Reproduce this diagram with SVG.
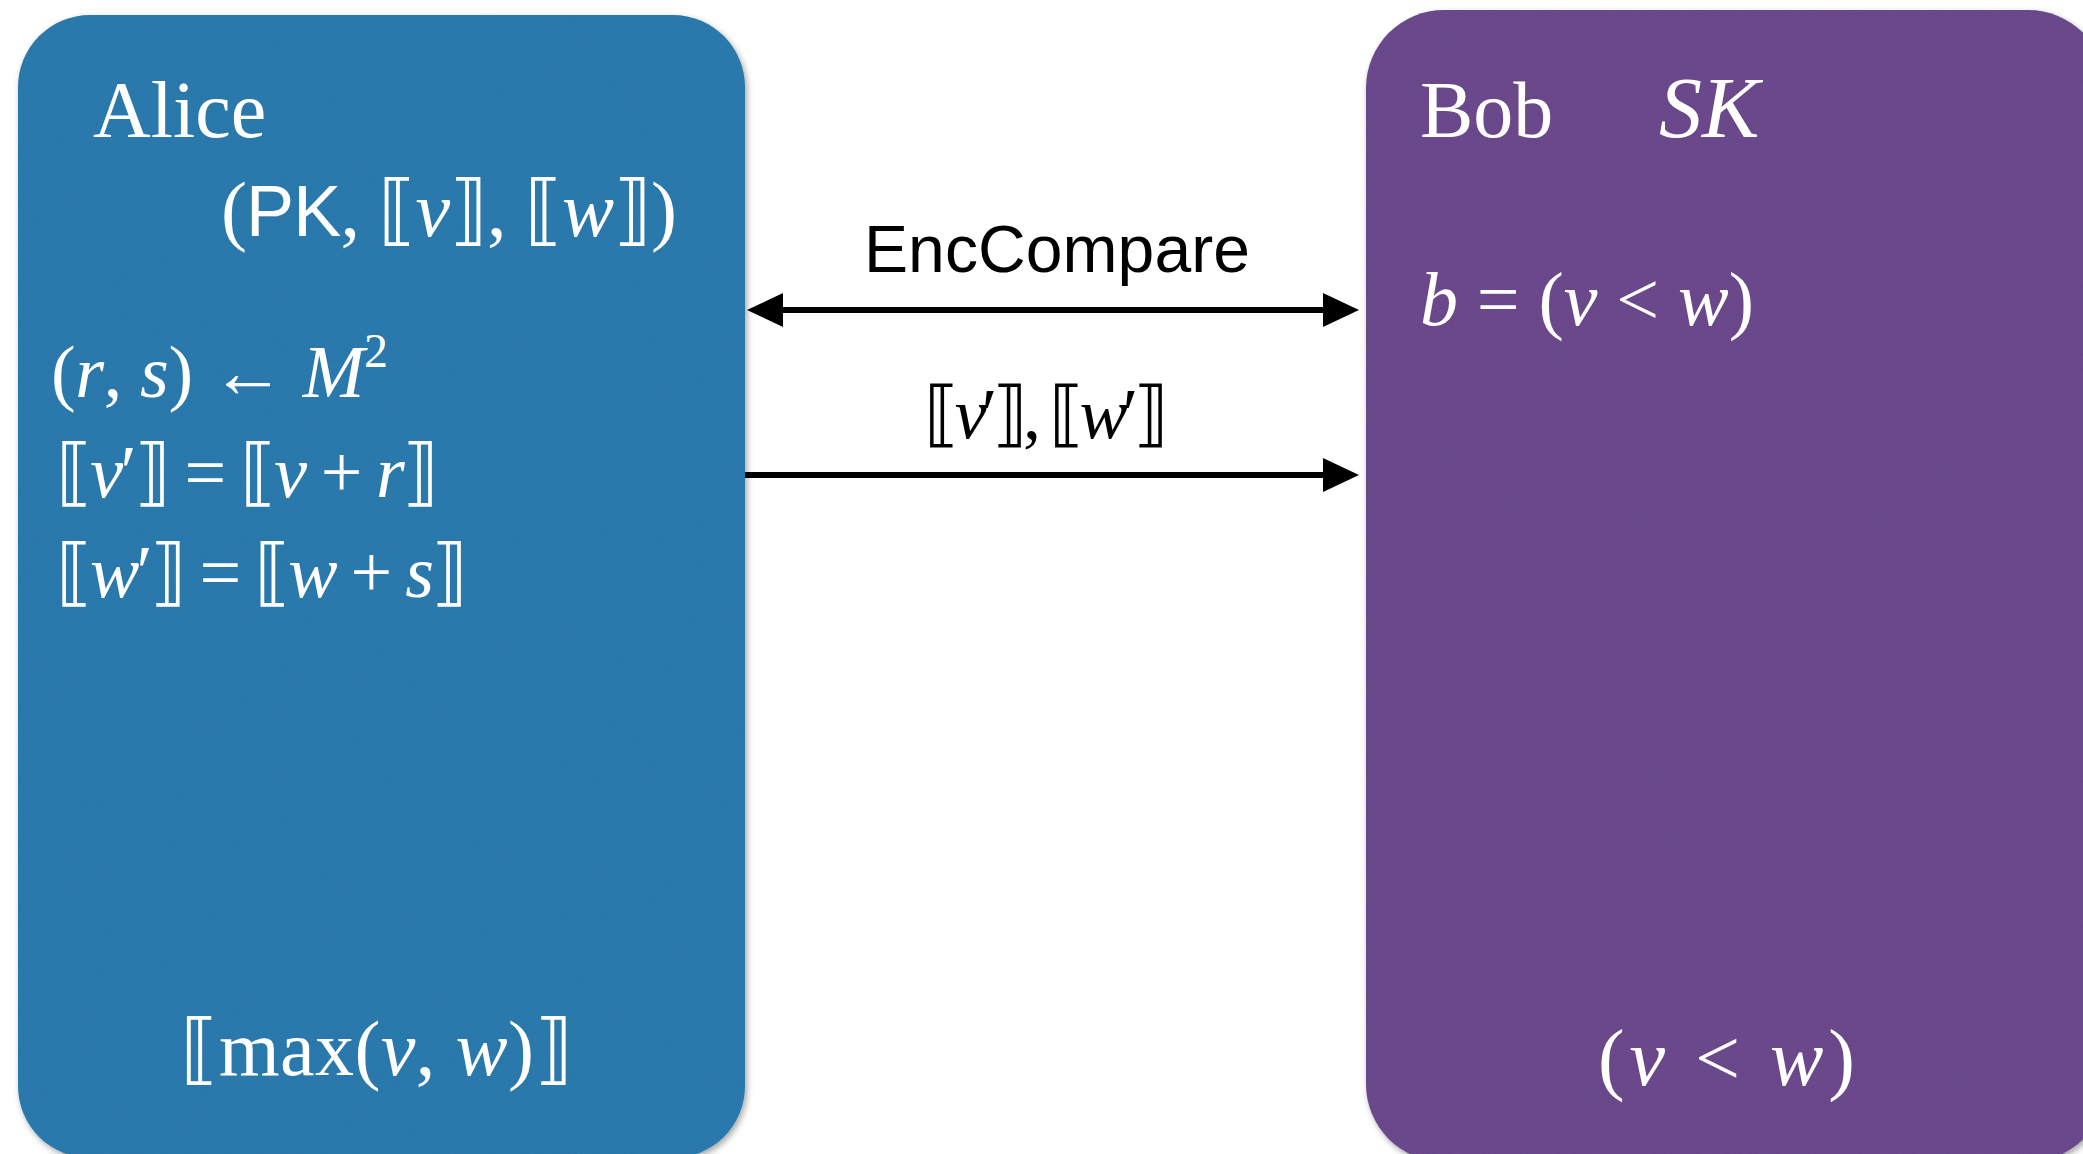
<svg xmlns="http://www.w3.org/2000/svg" width="2083" height="1154" viewBox="0 0 2083 1154">
  <style>
    .m { font-family: "Liberation Serif", "DejaVu Serif", "DejaVu Sans", serif; fill: #ffffff; }
    .i { font-style: italic; }
    .sans { font-family: "Liberation Sans", "DejaVu Sans", sans-serif; }
    .lbl { font-family: "Liberation Sans", "DejaVu Sans", sans-serif; fill: #000000; }
    .lm { font-family: "Liberation Serif", "DejaVu Serif", "DejaVu Sans", serif; fill: #000000; }
    .conn { stroke: #000000; stroke-width: 6; fill: none; }
  </style>
  <defs>
    <filter id="shadow" x="-5%" y="-5%" width="110%" height="110%">
      <feDropShadow dx="2" dy="3" stdDeviation="3" flood-color="#000000" flood-opacity="0.35"/>
    </filter>
    <filter id="paper" x="0" y="0" width="100%" height="100%">
      <feTurbulence type="fractalNoise" baseFrequency="0.6" numOctaves="3" seed="4" result="n"/>
      <feColorMatrix in="n" type="matrix" values="0 0 0 0 0  0 0 0 0 0  0 0 0 0 0  0 0 0 0.12 0" result="a"/>
      <feComposite in="a" in2="SourceGraphic" operator="in" result="t"/>
      <feMerge><feMergeNode in="SourceGraphic"/><feMergeNode in="t"/></feMerge>
    </filter>
    <marker id="head" viewBox="0 0 36 34" refX="1" refY="17" markerWidth="36" markerHeight="34" markerUnits="userSpaceOnUse" orient="auto-start-reverse">
      <path d="M0,0 L36,17 L0,34 Z" fill="#000000"/>
    </marker>
  </defs>

  <rect width="2083" height="1154" fill="#ffffff"/>

  <g id="alice">
    <g filter="url(#shadow)">
      <rect x="18" y="15" width="727" height="1143" rx="72" ry="72" fill="#2f7db1" filter="url(#paper)"/>
    </g>
    <text class="m" x="93" y="137" font-size="80">Alice</text>
    <text class="m" x="221" y="236" font-size="78" textLength="456" lengthAdjust="spacing">(<tspan class="sans" font-size="72">PK</tspan>, ⟦<tspan class="i">v</tspan>⟧, ⟦<tspan class="i">w</tspan>⟧)</text>
    <text class="m" x="51" y="397" font-size="74" textLength="337" lengthAdjust="spacing">(<tspan class="i">r</tspan>, <tspan class="i">s</tspan>) ← <tspan class="i">M</tspan><tspan font-size="48" dy="-30">2</tspan></text>
    <text class="m" x="56" y="497" font-size="74" textLength="383" lengthAdjust="spacing">⟦<tspan class="i">v</tspan>′⟧ = ⟦<tspan class="i">v</tspan> + <tspan class="i">r</tspan>⟧</text>
    <text class="m" x="56" y="597" font-size="74" textLength="412" lengthAdjust="spacing">⟦<tspan class="i">w</tspan>′⟧ = ⟦<tspan class="i">w</tspan> + <tspan class="i">s</tspan>⟧</text>
    <text class="m" x="180" y="1075" font-size="78" textLength="393" lengthAdjust="spacing">⟦max(<tspan class="i">v</tspan>, <tspan class="i">w</tspan>)⟧</text>
  </g>

  <g id="bob">
    <g filter="url(#shadow)">
      <rect x="1366" y="10" width="740" height="1152" rx="78" ry="78" fill="#6e4b8f" filter="url(#paper)"/>
    </g>
    <text class="m" x="1420" y="137" font-size="80">Bob</text>
    <text class="m i" x="1659" y="137" font-size="86">SK</text>
    <text class="m" x="1420" y="325" font-size="76" textLength="334" lengthAdjust="spacing"><tspan class="i">b</tspan> = (<tspan class="i">v</tspan> &lt; <tspan class="i">w</tspan>)</text>
    <text class="m" x="1598" y="1085" font-size="80" textLength="257" lengthAdjust="spacing">(<tspan class="i">v</tspan> &lt; <tspan class="i">w</tspan>)</text>
  </g>

  <g id="connectors">
    <line class="conn" x1="782" y1="310" x2="1324" y2="310" marker-start="url(#head)" marker-end="url(#head)"/>
    <line class="conn" x1="745" y1="475" x2="1324" y2="475" marker-end="url(#head)"/>
    <text class="lbl" x="864" y="272" font-size="66" textLength="386" lengthAdjust="spacing">EncCompare</text>
    <text class="lm" x="924" y="438" font-size="72" textLength="245" lengthAdjust="spacing">⟦<tspan class="i">v</tspan>′⟧, ⟦<tspan class="i">w</tspan>′⟧</text>
  </g>
</svg>
